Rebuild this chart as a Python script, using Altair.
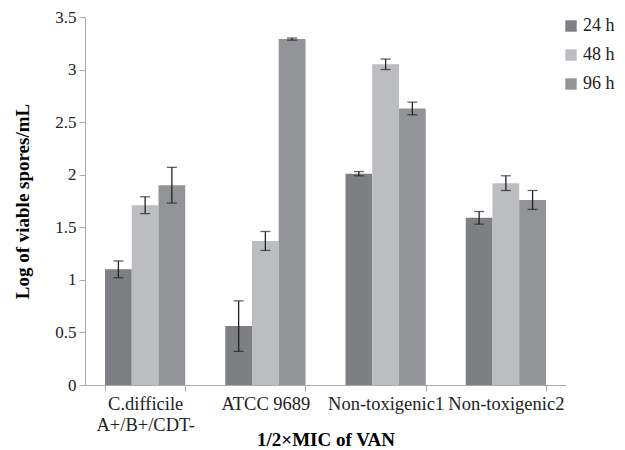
import altair as alt
import pandas as pd

strains = ["C.difficile|A+/B+/CDT-", "ATCC 9689", "Non-toxigenic1", "Non-toxigenic2"]
times = ["24 h", "48 h", "96 h"]
colors = ["#7e7f82", "#bcbdc0", "#929396"]

v24 = [1.10, 0.56, 2.01, 1.59]
v48 = [1.71, 1.37, 3.05, 1.92]
v96 = [1.90, 3.29, 2.63, 1.76]
e24 = [0.08, 0.24, 0.02, 0.06]
e48 = [0.08, 0.09, 0.05, 0.07]
e96 = [0.17, 0.01, 0.06, 0.09]

rows = []
for t, vals, errs in zip(times, [v24, v48, v96], [e24, e48, e96]):
    for s, v, e in zip(strains, vals, errs):
        rows.append({"strain": s, "time": t, "value": v, "lo": v - e, "hi": v + e})
df = pd.DataFrame(rows)

FONT = "Liberation Serif"

x = alt.X("strain:N", sort=strains, title="1/2×MIC of VAN",
          scale=alt.Scale(paddingInner=0.333, paddingOuter=0.1667),
          axis=alt.Axis(labelAngle=0, tickBand="extent",
                        labelExpr="split(datum.label, '|')",
                        labelFontSize=18.5, labelColor="#222", labelPadding=3,
                        labelLineHeight=21,
                        titleFontSize=19, titleFontWeight="bold",
                        titleY=45, titleBaseline="top",
                        domainColor="#aaaaaa", tickColor="#aaaaaa", tickSize=6))
xo = alt.XOffset("time:N", sort=times, scale=alt.Scale(paddingInner=0, paddingOuter=0))

bars = alt.Chart(df).mark_bar().encode(
    x=x, xOffset=xo,
    y=alt.Y("value:Q", title="Log of viable spores/mL",
            scale=alt.Scale(domain=[0, 3.5], nice=False),
            axis=alt.Axis(values=[0, 0.5, 1, 1.5, 2, 2.5, 3, 3.5], format="~g", grid=False,
                          labelFontSize=17, labelColor="#222", labelPadding=3,
                          titleFontSize=19, titleFontWeight="bold", titleX=-63,
                          titleBaseline="middle",
                          domainColor="#aaaaaa", tickColor="#aaaaaa", tickSize=6)),
    color=alt.Color("time:N", sort=times, scale=alt.Scale(domain=times, range=colors),
                    legend=alt.Legend(title=None, orient="none", legendX=477, legendY=0,
                                      symbolType="square", symbolSize=130, symbolStrokeWidth=0,
                                      labelFontSize=18, labelColor="#222", rowPadding=11,
                                      labelOffset=3)),
)

rules = alt.Chart(df).mark_rule(color="#222", strokeWidth=1.3).encode(
    x=x, xOffset=xo, y="lo:Q", y2="hi:Q")
caps_lo = alt.Chart(df).mark_tick(color="#222", size=10, thickness=1.3).encode(
    x=x, xOffset=xo, y="lo:Q")
caps_hi = alt.Chart(df).mark_tick(color="#222", size=10, thickness=1.3).encode(
    x=x, xOffset=xo, y="hi:Q")

chart = alt.layer(bars, rules, caps_lo, caps_hi).properties(
    width=481, height=368,
    autosize=alt.AutoSizeParams(type="none"),
    padding={"left": 77, "top": 9, "right": 51, "bottom": 65},
).configure(font=FONT).configure_view(stroke=None)

chart.save("out.html", embed_options={"renderer": "svg", "actions": False})
